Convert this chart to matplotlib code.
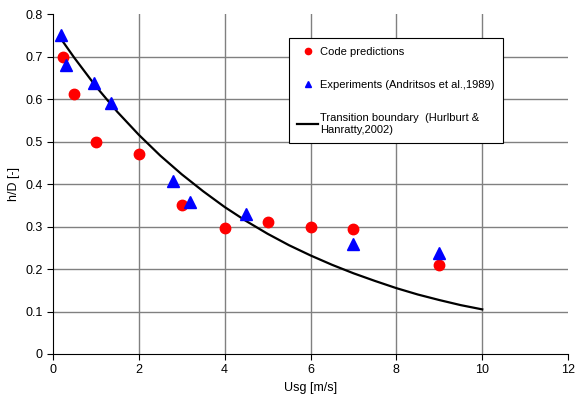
import matplotlib
matplotlib.use("Agg")
import matplotlib.pyplot as plt

plt.rcParams['font.family'] = ['Liberation Sans', 'DejaVu Sans']

# code predictions
code_x = [0.23, 0.5, 1.0, 2.0, 3.0, 4.0, 5.0, 6.0, 7.0, 9.0]
code_y = [0.70, 0.613, 0.50, 0.47, 0.35, 0.296, 0.31, 0.30, 0.294, 0.21]

# experiments (Andritsos et al., 1989)
exp_x = [0.19, 0.3, 0.95, 1.35, 2.8, 3.2, 4.5, 7.0, 9.0]
exp_y = [0.75, 0.68, 0.638, 0.59, 0.407, 0.357, 0.33, 0.26, 0.238]

# transition boundary (Hurlburt & Hanratty, 2002)
tb_x = [0.2, 0.5, 1.0, 1.5, 2.0, 2.5, 3.0, 3.5, 4.0, 4.5, 5.0, 5.5, 6.0,
        6.5, 7.0, 7.5, 8.0, 8.5, 9.0, 9.5, 10.0]
tb_y = [0.74, 0.697, 0.63, 0.57, 0.516, 0.467, 0.423, 0.383, 0.346, 0.313,
        0.283, 0.256, 0.232, 0.21, 0.19, 0.172, 0.155, 0.14, 0.127, 0.115, 0.105]

xticks = [0, 2, 4, 6, 8, 10, 12]
yticks = [0, 0.1, 0.2, 0.3, 0.4, 0.5, 0.6, 0.7, 0.8]


def main():
    fig = plt.figure(figsize=(5.75, 4.03), dpi=100)
    ax0 = fig.add_axes([0.092, 0.1216, 0.896, 0.8434])

    for yv in yticks[1:-1]:
        ax0.axhline(yv, color='#808080', linewidth=1, zorder=0)
    for xv in xticks[1:-1]:
        ax0.axvline(xv, color='#808080', linewidth=1, zorder=0)

    ax0.plot(code_x, code_y, 'o', color='#ff0000', markersize=7.5,
             linestyle='none', label='Code predictions', zorder=3)
    ax0.plot(exp_x, exp_y, '^', color='#0000ff', markersize=8,
             linestyle='none', label='Experiments (Andritsos et al.,1989)', zorder=3)
    ax0.plot(tb_x, tb_y, '-', color='black', linewidth=1.6,
             label='Transition boundary  (Hurlburt &\nHanratty,2002)', zorder=2)

    ax0.set_xlim(0, 12)
    ax0.set_ylim(0, 0.8)
    ax0.set_xticks(xticks)
    ax0.set_yticks(yticks)
    ax0.set_yticklabels(['0', '0.1', '0.2', '0.3', '0.4', '0.5', '0.6', '0.7', '0.8'])
    ax0.spines['top'].set_visible(False)
    ax0.spines['right'].set_visible(False)
    ax0.tick_params(axis='both', labelsize=9, direction='out', length=4, color='black')
    ax0.set_xlabel('Usg [m/s]', fontsize=9)
    ax0.set_ylabel('h/D [-]', fontsize=9)

    leg = ax0.legend(loc='upper left', bbox_to_anchor=(0.447, 0.945), fontsize=8,
                     frameon=True, fancybox=False, edgecolor='black', framealpha=1,
                     labelspacing=2.1, handlelength=1.9, handletextpad=0.15,
                     borderpad=0.75, markerscale=0.6)
    leg.get_frame().set_linewidth(0.8)

    fig.savefig("out.png", dpi=100)


if __name__ == "__main__":
    main()
